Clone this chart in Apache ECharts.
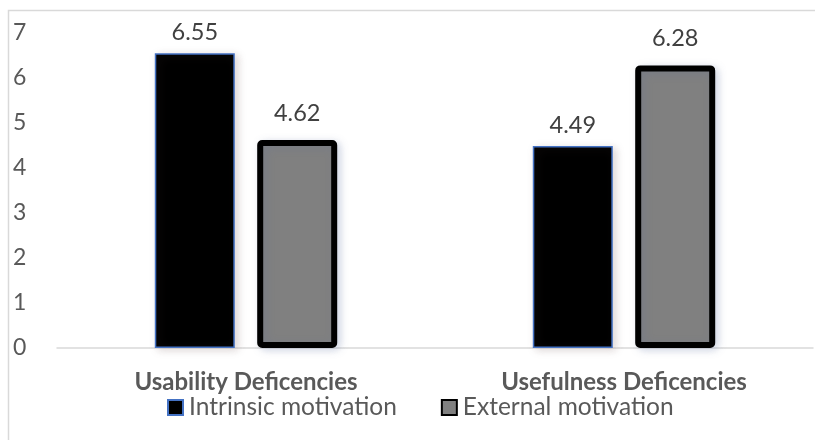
<!DOCTYPE html>
<html>
<head>
<meta charset="utf-8">
<script src="https://cdn.jsdelivr.net/npm/echarts@6/dist/echarts.min.js"></script>
<style>
  html, body { margin: 0; padding: 0; background: #fff; }
  #chart { width: 815px; height: 440px; }
</style>
</head>
<body>
<div id="chart"></div>
<script>
// Mean scores per deficiency type, split by motivation
const categories = ['Usability Deficencies', 'Usefulness Deficencies'];
const intrinsicValues = [6.55, 4.49];
const externalValues = [4.62, 6.28];
const yTicks = [0, 1, 2, 3, 4, 5, 6, 7];

const FONT = 'Lato, "Open Sans", sans-serif';
const chart = echarts.init(document.getElementById('chart'));

chart.setOption({
  animation: false,
  textStyle: { fontFamily: FONT },
  graphic: [{
    type: 'rect',
    shape: { x: 8.5, y: 10.5, width: 830, height: 460 },
    style: { fill: 'none', stroke: '#d9d9d9', lineWidth: 1.5 },
    silent: true
  }],
  grid: { left: 57, right: 2, top: 33, bottom: 92 },
  legend: {
    left: 162,
    top: 390,
    itemWidth: 15,
    itemHeight: 15,
    itemGap: 44,
    icon: 'rect',
    textStyle: { fontSize: 24.5, color: '#595959', fontFamily: FONT, padding: [0, 0, 0, 1] },
    data: ['Intrinsic motivation', 'External motivation']
  },
  xAxis: {
    type: 'category',
    data: categories,
    axisLine: { show: true, lineStyle: { color: '#d9d9d9', width: 1.5 } },
    axisTick: { show: false },
    axisLabel: { color: '#595959', fontSize: 24, fontWeight: 'bold', margin: 22, fontFamily: FONT }
  },
  yAxis: {
    type: 'value',
    min: yTicks[0],
    max: yTicks[yTicks.length - 1],
    interval: 1,
    splitLine: { show: false },
    axisLine: { show: false },
    axisTick: { show: false },
    axisLabel: { color: '#595959', fontSize: 23, align: 'left', margin: 44, fontFamily: FONT }
  },
  series: [
    {
      name: 'Intrinsic motivation',
      type: 'bar',
      data: intrinsicValues,
      barWidth: 80,
      barGap: '28%',
      itemStyle: {
        color: '#000000',
        borderColor: '#4472c4',
        borderWidth: 1.5,
        shadowBlur: 8,
        shadowColor: 'rgba(120,90,90,0.25)',
        shadowOffsetX: 3,
        shadowOffsetY: 2
      },
      label: {
        show: true,
        position: 'top',
        distance: 9,
        fontSize: 23.5,
        color: '#404040',
        fontFamily: FONT,
        formatter: p => p.value.toFixed(2)
      }
    },
    {
      name: 'External motivation',
      type: 'bar',
      data: externalValues,
      barWidth: 80,
      itemStyle: {
        color: '#808080',
        borderColor: '#000000',
        borderWidth: 6,
        borderRadius: 2,
        shadowBlur: 8,
        shadowColor: 'rgba(90,110,160,0.25)',
        shadowOffsetX: 3,
        shadowOffsetY: 2
      },
      label: {
        show: true,
        position: 'top',
        distance: 15,
        fontSize: 23.5,
        color: '#404040',
        fontFamily: FONT,
        formatter: p => p.value.toFixed(2)
      }
    }
  ]
});
</script>
</body>
</html>
